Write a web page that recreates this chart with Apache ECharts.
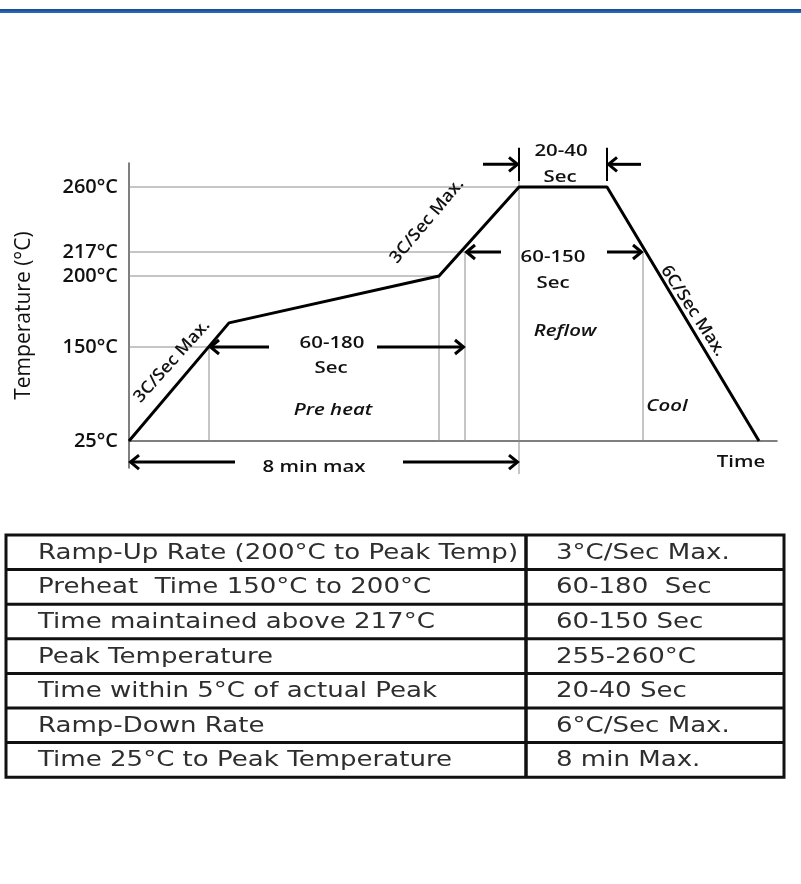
<!DOCTYPE html>
<html><head><meta charset="utf-8">
<script src="https://cdn.jsdelivr.net/npm/echarts@6/dist/echarts.min.js"></script>
<style>html,body{margin:0;padding:0;background:#fff}#c{width:801px;height:884px}</style>
</head><body><div id="c"></div>
<script>
// ---------- data ----------
const tempTicks = [25, 150, 200, 217, 260];
const tickLabels = ['25°C', '150°C', '200°C', '217°C', '260°C'];
// reflow profile (time in s, temperature in °C)
const profileTime = [0, 50, 155, 195, 239, 315];
const profileTemp = [25, 167, 200, 260, 260, 25];
// horizontal guide lines: temperature, runs from t=0 until
const guideTemps = [260, 217, 200, 150];
const guideUntil = [195, 168, 155, 40];
// vertical drop lines: time, from temp, to temp
const dropTimes = [40, 155, 168, 195, 257];
const dropFrom = [150, 200, 217, 264, 217];
const dropTo = [25, 25, 25, -19, 25];
// span arrows: level temp, tail time, head time
const spanLevel = [150, 150, 275, 275, 217, 217, -3, -3];
const spanTail = [70, 124, 177, 256, 186, 239, 53, 137];
const spanHead = [40, 168, 195, 239, 168, 257, 0, 195];
// stop bars of the 20-40 s span
const barTimes = [195, 239];
const barFrom = [264, 264];
const barTo = [286, 286];
// annotations
const noteText = ['3C/Sec Max.', '3C/Sec Max.', '6C/Sec Max.', '60-180', 'Sec', 'Pre heat', '20-40', 'Sec', '60-150', 'Sec', 'Reflow', 'Cool', '8 min max', 'Time'];
const noteTime = [21.5, 149, 282, 101.5, 101, 102, 216, 215.5, 212, 212, 218, 269, 92.5, 306];
const noteTemp = [131, 237.5, 175.4, 152.8, 122, 66, 283.8, 266.6, 213.5, 195, 161.3, 71.5, -9.6, -2.9];
const noteRotate = [48, 50, -57, 0, 0, 0, 0, 0, 0, 0, 0, 0, 0, 0];
const noteItalic = [false, false, false, false, false, true, false, false, false, false, true, true, false, false];
// table
const tableParams = ['Ramp-Up Rate (200°C to Peak Temp)', 'Preheat  Time 150°C to 200°C', 'Time maintained above 217°C', 'Peak Temperature', 'Time within 5°C of actual Peak', 'Ramp-Down Rate', 'Time 25°C to Peak Temperature'];
const tableValues = ['3°C/Sec Max.', '60-180  Sec', '60-150 Sec', '255-260°C', '20-40 Sec', '6°C/Sec Max.', '8 min Max.'];

// ---------- non-linear temperature scale of the drawing ----------
const scaleStops = [0, 94, 165, 189, 254];
function yScale(t) {
  const n = tempTicks.length;
  let i = 0;
  if (t >= tempTicks[n - 1]) i = n - 2;
  else { while (i < n - 2 && t > tempTicks[i + 1]) i++; }
  const t0 = tempTicks[i], t1 = tempTicks[i + 1];
  return scaleStops[i] + (t - t0) * (scaleStops[i + 1] - scaleStops[i]) / (t1 - t0);
}

const chart = echarts.init(document.getElementById('c'));
const FONT = '"Open Sans", "Noto Sans", sans-serif';
const TFONT = '"DejaVu Sans", Verdana, sans-serif';
const STRETCH = 1.2;

function arrowShapes(api, tail, head, level) {
  const p0 = api.coord([tail, yScale(level)]);
  const p1 = api.coord([head, yScale(level)]);
  const d = p1[0] > p0[0] ? 1 : -1;
  const st = {stroke: '#000', lineWidth: 3, lineCap: 'butt'};
  return [
    {type: 'line', shape: {x1: p0[0], y1: p0[1], x2: p1[0] - d * 2, y2: p1[1]}, style: st},
    {type: 'polyline', shape: {points: [[p1[0] - d * 10, p1[1] - 7], [p1[0] - d * 1.5, p1[1]], [p1[0] - d * 10, p1[1] + 7]]}, style: {stroke: '#000', lineWidth: 3, fill: null}}
  ];
}

// table graphic
const T = {left: 6, right: 784, top: 535, rowH: 34.6, col: 526};
const tableEls = [];
const rows = tableParams.length;
const bottom = T.top + rows * T.rowH;
tableEls.push({type: 'rect', shape: {x: T.left, y: T.top, width: T.right - T.left, height: bottom - T.top}, style: {fill: 'none', stroke: '#111', lineWidth: 3}});
for (let i = 1; i < rows; i++) {
  const y = T.top + i * T.rowH;
  tableEls.push({type: 'line', shape: {x1: T.left, y1: y, x2: T.right, y2: y}, style: {stroke: '#111', lineWidth: 3}});
}
tableEls.push({type: 'line', shape: {x1: T.col, y1: T.top, x2: T.col, y2: bottom}, style: {stroke: '#111', lineWidth: 3.5}});
tableParams.forEach((txt, i) => {
  const cy = T.top + (i + 0.5) * T.rowH + 1;
  tableEls.push({type: 'text', x: 38, y: cy, scaleX: 1.24, style: {text: txt, font: '21px ' + TFONT, fill: '#2e2e2e', align: 'left', verticalAlign: 'middle'}});
  tableEls.push({type: 'text', x: 556, y: cy, scaleX: 1.24, style: {text: tableValues[i], font: '21px ' + TFONT, fill: '#2e2e2e', align: 'left', verticalAlign: 'middle'}});
});

const option = {
  animation: false,
  backgroundColor: '#fff',
  graphic: [
    {type: 'rect', shape: {x: 0, y: 9, width: 801, height: 4}, style: {fill: '#2966b6'}},
    {type: 'rect', shape: {x: 0, y: 9, width: 801, height: 2}, style: {fill: '#1c4f97'}},
    {type: 'group', children: tableEls}
  ],
  grid: {left: 129, right: 24, top: 163, bottom: 416},
  xAxis: {
    type: 'value', min: 0, max: 324,
    axisLine: {onZero: true, lineStyle: {color: '#555', width: 1.5}},
    axisTick: {show: false}, axisLabel: {show: false}, splitLine: {show: false}
  },
  yAxis: {
    type: 'value', min: -27, max: 278,
    name: 'Temperature (°C)', nameLocation: 'middle', nameGap: 94,
    nameTextStyle: {fontFamily: FONT, fontSize: 21, fontWeight: 500, color: '#111'},
    axisLine: {show: true, lineStyle: {color: '#555', width: 1.5}},
    axisTick: {show: false}, splitLine: {show: false},
    axisLabel: {
      customValues: tempTicks.map(yScale),
      formatter: v => {
        let best = 0;
        tempTicks.forEach((t, i) => { if (Math.abs(yScale(t) - v) < Math.abs(yScale(tempTicks[best]) - v)) best = i; });
        return tickLabels[best];
      },
      fontFamily: FONT, fontSize: 20, fontWeight: 600, color: '#111', margin: 11
    }
  },
  series: [
    {
      type: 'custom', name: 'guides', z: 1, silent: true,
      data: guideTemps.map((t, i) => [0, guideUntil[i], t]),
      renderItem: (params, api) => {
        const a = api.coord([api.value(0), yScale(api.value(2))]);
        const b = api.coord([api.value(1), yScale(api.value(2))]);
        return {type: 'line', shape: {x1: a[0], y1: a[1], x2: b[0], y2: b[1]}, style: {stroke: '#8c8c8c', lineWidth: 1}};
      }
    },
    {
      type: 'custom', name: 'drops', z: 1, silent: true,
      data: dropTimes.map((t, i) => [t, dropFrom[i], dropTo[i]]),
      renderItem: (params, api) => {
        const a = api.coord([api.value(0), yScale(api.value(1))]);
        const b = api.coord([api.value(0), yScale(api.value(2))]);
        return {type: 'line', shape: {x1: a[0], y1: a[1], x2: b[0], y2: b[1]}, style: {stroke: '#8c8c8c', lineWidth: 1}};
      }
    },
    {
      type: 'custom', name: 'bars', z: 3, silent: true,
      data: barTimes.map((t, i) => [t, barFrom[i], barTo[i]]),
      renderItem: (params, api) => {
        const a = api.coord([api.value(0), yScale(api.value(1))]);
        const b = api.coord([api.value(0), yScale(api.value(2))]);
        return {type: 'line', shape: {x1: a[0], y1: a[1], x2: b[0], y2: b[1]}, style: {stroke: '#000', lineWidth: 2}};
      }
    },
    {
      type: 'custom', name: 'spans', z: 3, silent: true,
      data: spanLevel.map((l, i) => [spanTail[i], spanHead[i], l]),
      renderItem: (params, api) => ({type: 'group', children: arrowShapes(api, api.value(0), api.value(1), api.value(2))})
    },
    {
      type: 'line', name: 'profile', z: 4, silent: true,
      data: profileTime.map((t, i) => [t, yScale(profileTemp[i])]),
      symbol: 'none', lineStyle: {color: '#000', width: 3}, clip: false
    },
    {
      type: 'custom', name: 'notes', z: 5, silent: true,
      data: noteText.map((s, i) => [noteTime[i], noteTemp[i], i]),
      renderItem: (params, api) => {
        const i = api.value(2);
        const p = api.coord([api.value(0), yScale(api.value(1))]);
        const rot = noteRotate[i];
        return {
          type: 'text', x: p[0], y: p[1],
          rotation: rot * Math.PI / 180,
          scaleX: rot === 0 ? STRETCH : 1.06,
          style: {
            text: noteText[i],
            font: (noteItalic[i] ? 'italic ' : '') + '600 17px ' + FONT,
            fill: '#111', align: 'center', verticalAlign: 'middle'
          }
        };
      }
    }
  ]
};
chart.setOption(option);
</script>
</body></html>
